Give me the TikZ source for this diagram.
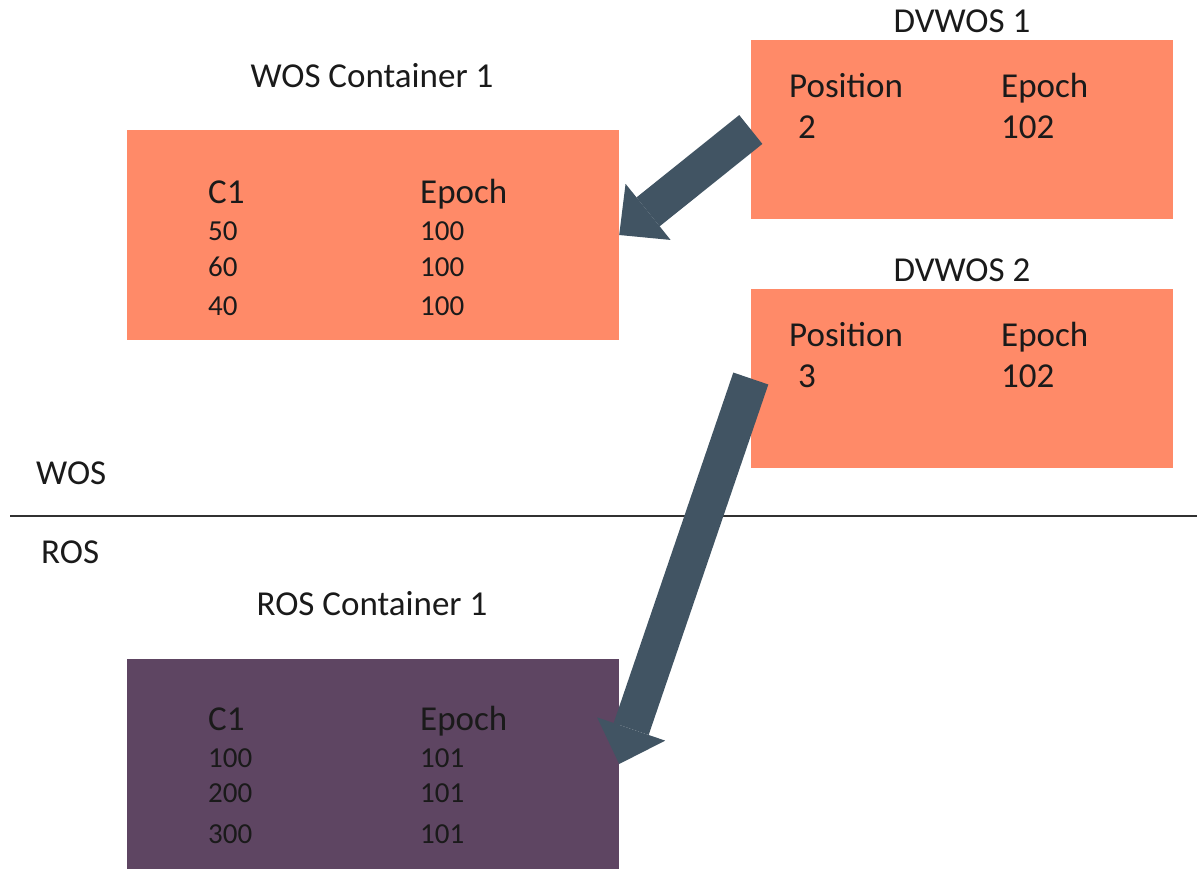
\documentclass[tikz,border=0pt]{standalone}
\usepackage{fontspec}
\setmainfont{Carlito}
\usetikzlibrary{arrows.meta}
\definecolor{salmon}{HTML}{FF8A68}
\definecolor{plum}{HTML}{5E4562}
\definecolor{slate}{HTML}{415463}
\definecolor{ink}{HTML}{1A1A1A}
\tikzset{
  box/.style={draw=none, inner sep=0pt},
  head/.style={inner sep=0pt, anchor=base, text=ink, font=\fontsize{35}{41}\selectfont},
  cell/.style={inner sep=0pt, anchor=base west, text=ink, font=\fontsize{35}{41}\selectfont},
  num/.style={inner sep=0pt, anchor=base west, text=ink, font=\fontsize{29}{34}\selectfont},
  bigarrow/.style={draw=slate, line width=37pt,
    -{Triangle[width=72pt,length=37pt,line width=0pt]}},
}
\begin{document}
\begin{tikzpicture}[x=1pt,y=-1pt]
\useasboundingbox (0,0) rectangle (1197,868);

% containers
\node[box, fill=salmon, minimum width=492pt, minimum height=210pt] (wos) at (373,235) {};
\node[box, fill=salmon, minimum width=422pt, minimum height=179pt] (dv1) at (962,129.5) {};
\node[box, fill=salmon, minimum width=422pt, minimum height=179pt] (dv2) at (962,378.5) {};
\node[box, fill=plum, minimum width=492pt, minimum height=210pt] (ros) at (373,764) {};

% titles
\node[head] (wosT) at (372,87) {WOS Container 1};
\node[head] (dv1T) at (962,32) {DVWOS 1};
\node[head] (dv2T) at (962,281) {DVWOS 2};
\node[head] (rosT) at (372,615) {ROS Container 1};

% WOS container contents
\node[cell] (wc1) at (208,203) {C1};
\node[cell] (we1) at (420,203) {Epoch};
\node[num] (wr1a) at (208,240) {50};
\node[num] (wr1b) at (420,240) {100};
\node[num] (wr2a) at (208,276) {60};
\node[num] (wr2b) at (420,276) {100};
\node[num] (wr3a) at (208,315) {40};
\node[num] (wr3b) at (420,315) {100};

% DVWOS 1 contents
\node[cell] (d1p) at (789,97) {Position};
\node[cell] (d1e) at (1001,97) {Epoch};
\node[cell] (d1v) at (798,138) {2};
\node[cell] (d1w) at (1001,138) {102};

% DVWOS 2 contents
\node[cell] (d2p) at (789,346) {Position};
\node[cell] (d2e) at (1001,346) {Epoch};
\node[cell] (d2v) at (798,387) {3};
\node[cell] (d2w) at (1001,387) {102};

% ROS container contents
\node[cell] (rc1) at (208,730) {C1};
\node[cell] (re1) at (420,730) {Epoch};
\node[num] (rr1a) at (208,767) {100};
\node[num] (rr1b) at (420,767) {101};
\node[num] (rr2a) at (208,802) {200};
\node[num] (rr2b) at (420,802) {101};
\node[num] (rr3a) at (208,843) {300};
\node[num] (rr3b) at (420,843) {101};

% store divider
\coordinate (divL) at (10,516);
\coordinate (divR) at (1197,516);
\draw[line width=2.8pt, draw=ink!90] (divL) -- (divR);
\node[cell] (wosL) at (36,484) {WOS};
\node[cell] (rosL) at (41,563) {ROS};

% delete-vector arrows
\draw[bigarrow] (dv1.west) -- (wos.east);
\draw[bigarrow] (dv2.west) -- (ros.east);
\end{tikzpicture}
\end{document}
